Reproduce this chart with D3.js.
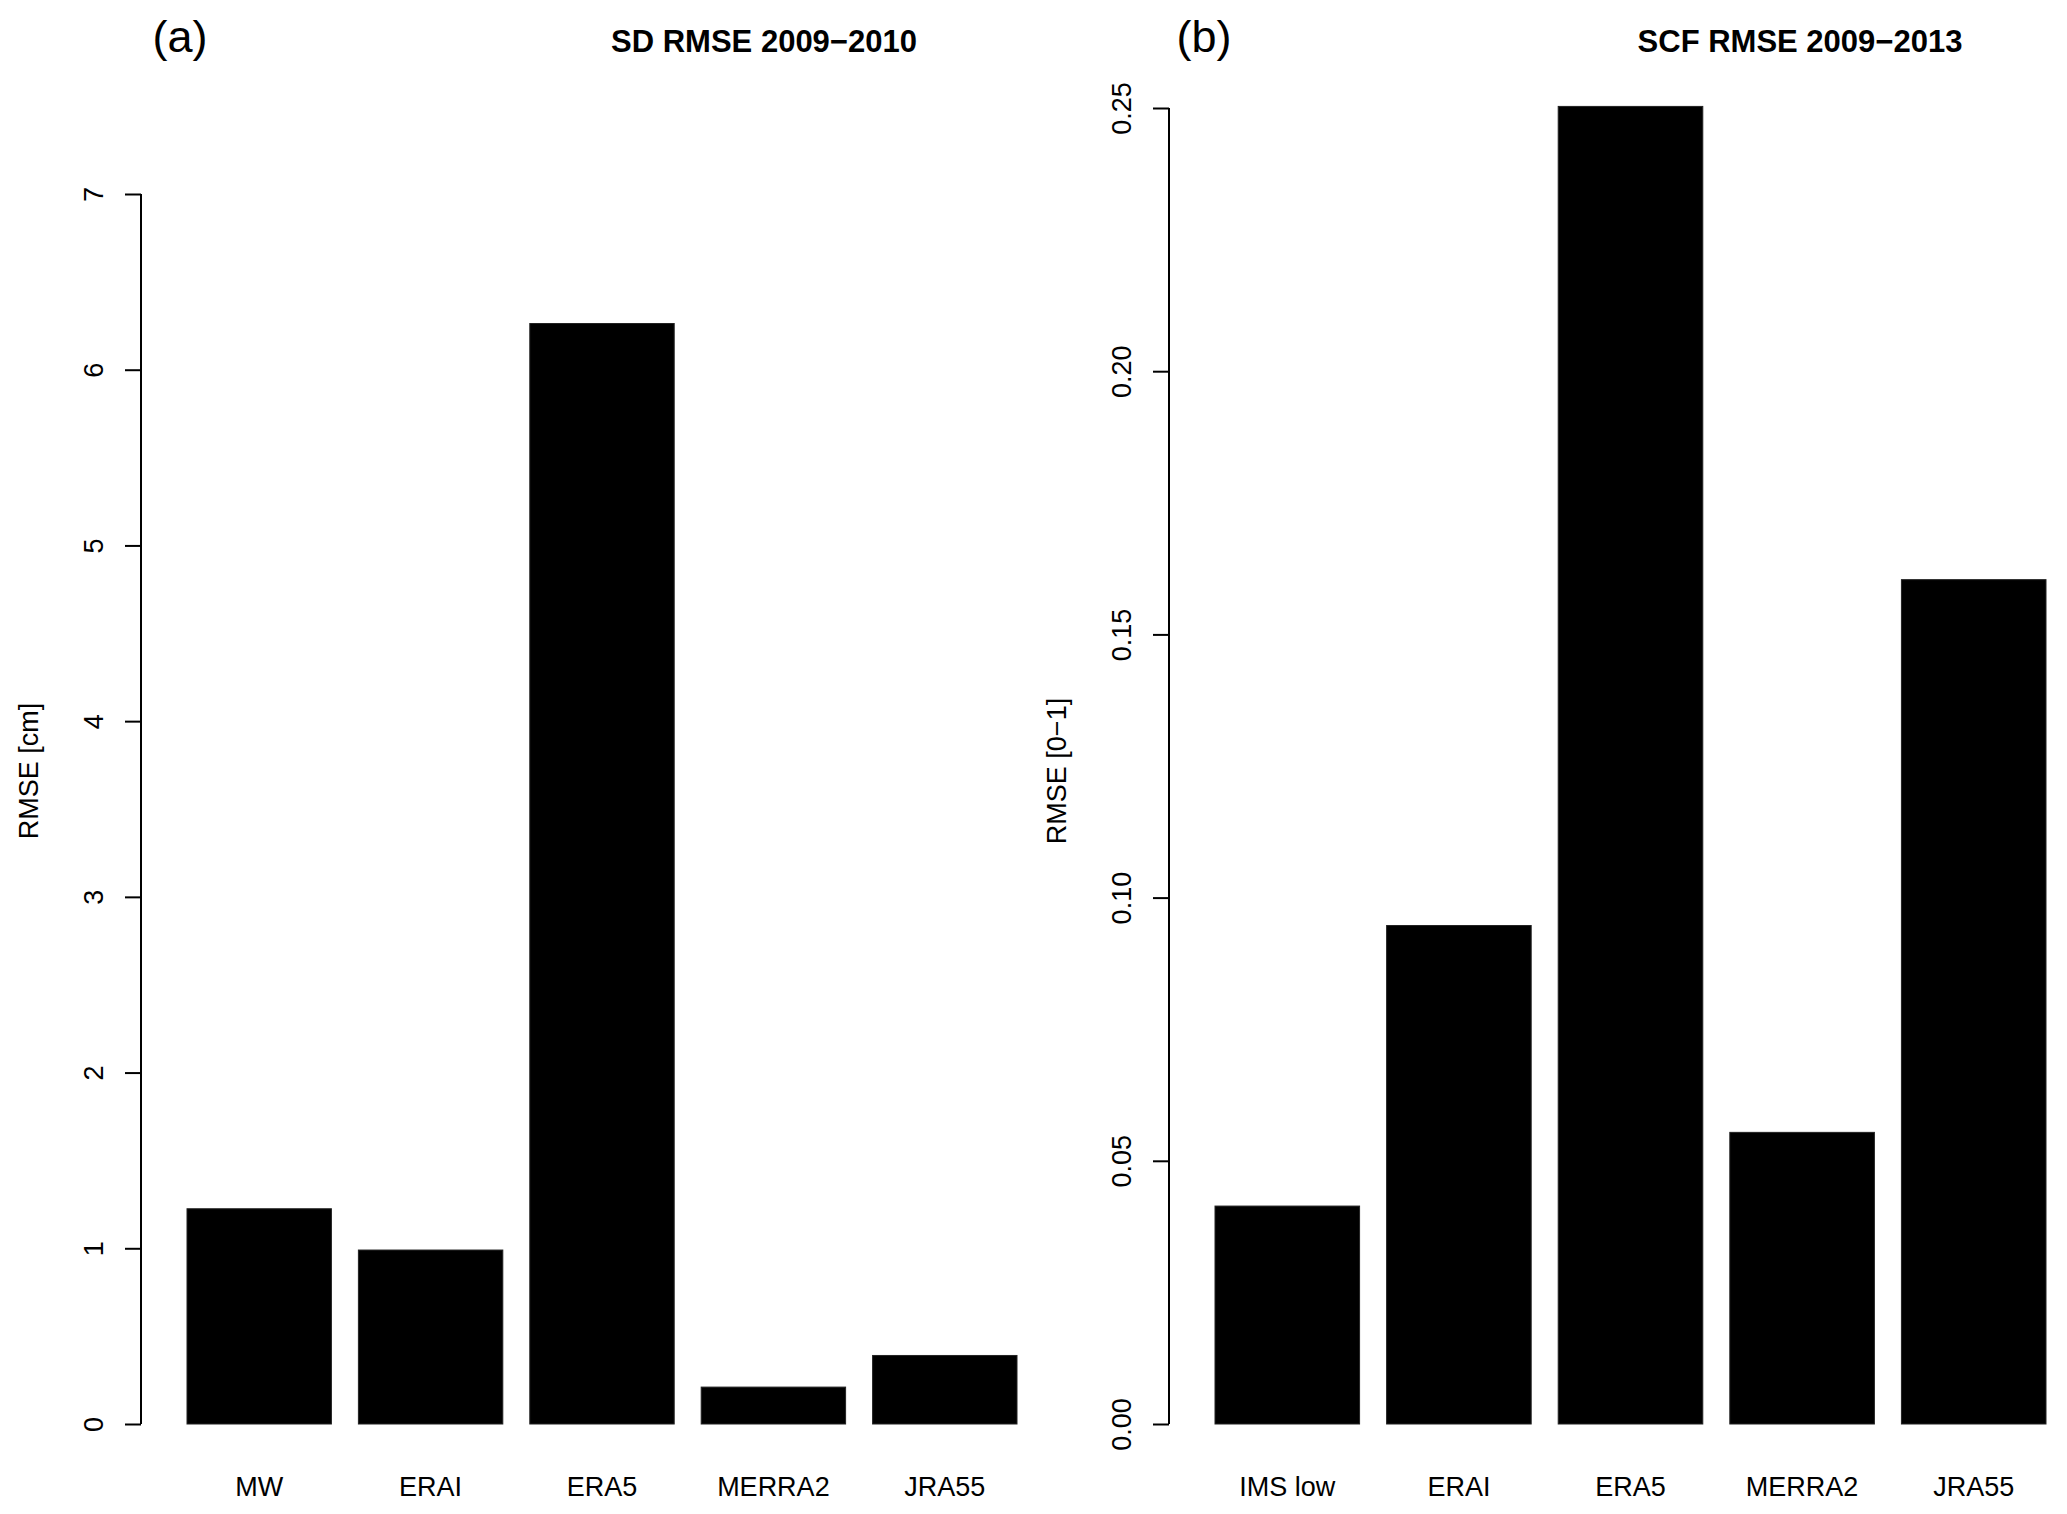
<!DOCTYPE html>
<html>
<head>
<meta charset="utf-8">
<script src="https://cdn.jsdelivr.net/npm/d3@7"></script>
<style>
  body { margin: 0; background: #fff; }
  text { font-family: "Liberation Sans", Arial, Helvetica, sans-serif; fill: #000; }
</style>
</head>
<body>
<div id="chart"></div>
<script>
// panel (a): snow depth RMSE
var sdNames = ["MW", "ERAI", "ERA5", "MERRA2", "JRA55"];
var sdRmse = [1.225, 0.99, 6.263, 0.21, 0.39];
var sdTicks = [0, 1, 2, 3, 4, 5, 6, 7];

// panel (b): snow cover fraction RMSE
var scfNames = ["IMS low", "ERAI", "ERA5", "MERRA2", "JRA55"];
var scfRmse = [0.0414, 0.0947, 0.2503, 0.0554, 0.1604];
var scfTicks = [0, 0.05, 0.10, 0.15, 0.20, 0.25];

var W = 2067, H = 1514;

var svg = d3.select("#chart")
	.append("svg")
	.attr("width", W)
	.attr("height", H);

svg.append("rect").attr("width", W).attr("height", H).attr("fill", "#fff");

var panels = [
	{ letter: "(a)", title: "SD RMSE 2009\u22122010", ylab: "RMSE [cm]",
	  names: sdNames, values: sdRmse, ticks: sdTicks, fmt: d3.format("d"),
	  axisX: 141, barL: 187, barR: 1017, yTop: 194, yMax: 7,
	  letterX: 180, titleX: 764 },
	{ letter: "(b)", title: "SCF RMSE 2009\u22122013", ylab: "RMSE [0\u22121]",
	  names: scfNames, values: scfRmse, ticks: scfTicks, fmt: d3.format(".2f"),
	  axisX: 1169, barL: 1215, barR: 2046, yTop: 108, yMax: 0.25,
	  letterX: 1204, titleX: 1800 }
];

var y0 = 1424;

panels.forEach(function(p) {
	var g = svg.append("g");

	var x = d3.scaleBand()
		.domain(p.names)
		.range([p.barL, p.barR])
		.paddingInner(0.1575)
		.paddingOuter(0);

	var y = d3.scaleLinear()
		.domain([0, p.yMax])
		.range([y0, p.yTop]);

	// bars
	g.selectAll(".bar")
		.data(p.values)
		.enter().append("rect")
		.attr("class", "bar")
		.attr("x", function(d, i) { return x(p.names[i]); })
		.attr("y", function(d) { return y(d); })
		.attr("width", x.bandwidth())
		.attr("height", function(d) { return y0 - y(d); })
		.style("fill", "#000")
		.style("stroke", "#222")
		.style("stroke-width", 1);

	// y axis, R style: line only over the tick range, labels turned
	var ax = g.append("g")
		.attr("transform", "translate(" + p.axisX + ",0)")
		.call(d3.axisLeft(y).tickValues(p.ticks).tickFormat(p.fmt)
			.tickSize(16).tickSizeOuter(0).tickPadding(0));
	ax.select(".domain")
		.attr("d", "M0," + y(p.ticks[0]) + "V" + y(p.ticks[p.ticks.length - 1]))
		.style("stroke", "#000").style("stroke-width", 2);
	ax.selectAll(".tick line").style("stroke", "#000").style("stroke-width", 2);
	ax.selectAll(".tick text")
		.attr("x", null).attr("dy", null)
		.attr("transform", "translate(-38,0) rotate(-90)")
		.attr("text-anchor", "middle")
		.style("font-size", "27px")
		.style("font-family", "'Liberation Sans', Arial, sans-serif")
		.style("fill", "#000");

	// category names under bars
	g.selectAll(".name")
		.data(p.names)
		.enter().append("text")
		.attr("class", "name")
		.attr("x", function(d) { return x(d) + x.bandwidth() / 2; })
		.attr("y", 1496)
		.attr("text-anchor", "middle")
		.style("font-size", "27px")
		.text(function(d) { return d; });

	// y label
	g.append("text")
		.attr("transform", "translate(" + (p.axisX - 103) + ",771) rotate(-90)")
		.attr("text-anchor", "middle")
		.style("font-size", "27px")
		.text(p.ylab);

	// titles
	g.append("text")
		.attr("x", p.letterX)
		.attr("y", 52)
		.attr("text-anchor", "middle")
		.style("font-size", "45px")
		.text(p.letter);

	g.append("text")
		.attr("x", p.titleX)
		.attr("y", 52)
		.attr("text-anchor", "middle")
		.style("font-size", "31px")
		.style("font-weight", "bold")
		.text(p.title);
});
</script>
</body>
</html>
